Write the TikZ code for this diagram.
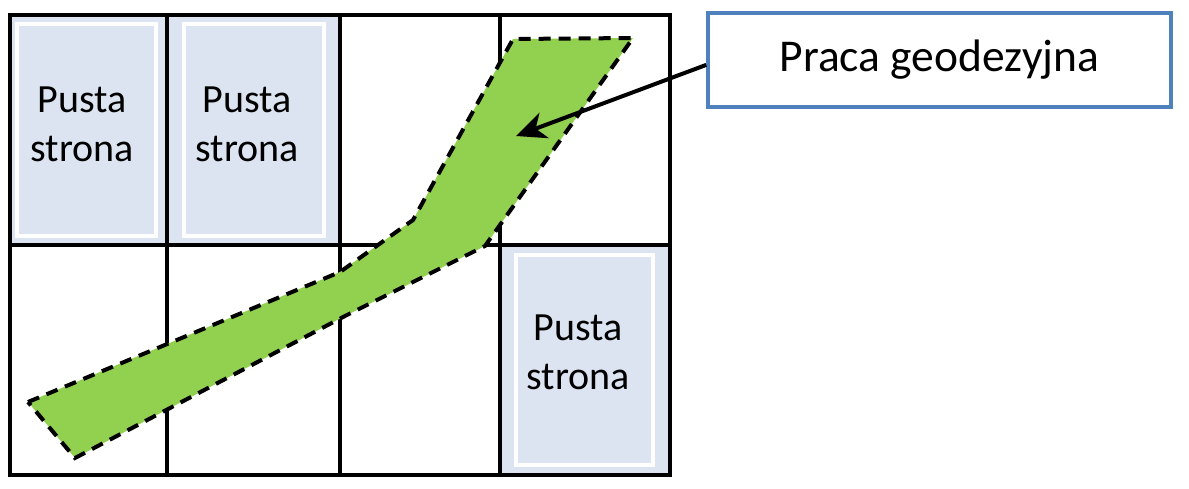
\documentclass[tikz,border=0pt]{standalone}
\usepackage{fontspec}
\setmainfont{Carlito}
\usetikzlibrary{arrows.meta,calc}
\definecolor{pageblue}{RGB}{219,228,240}
\definecolor{geogreen}{RGB}{146,208,80}
\definecolor{boxblue}{RGB}{79,129,189}
\tikzset{
  gridline/.style={line width=4pt,black},
  emptypage/.style={fill=pageblue},
  innerframe/.style={draw=white,line width=4pt},
  pagetext/.style={align=center,font=\fontsize{40}{49}\selectfont,inner sep=0pt},
  area/.style={fill=geogreen,draw=black,line width=4pt,dash pattern=on 12pt off 8pt},
  labelbox/.style={draw=boxblue,line width=3.5pt,minimum width=463pt,minimum height=94pt,inner sep=0pt,font=\fontsize{45.5}{54}\selectfont},
  pointer/.style={line width=4pt,-{Stealth[length=30pt,width=27pt,inset=9pt]}}
}
\begin{document}
\begin{tikzpicture}[x=1pt,y=-1pt]
\useasboundingbox (0,0) rectangle (1189,488);
% empty pages
\fill[emptypage] (10,15) rectangle (167,245);
\fill[emptypage] (167,15) rectangle (340,245);
\fill[emptypage] (500,245) rectangle (670,475);
\draw[innerframe] (17,24) rectangle (156,236);
\draw[innerframe] (184,24) rectangle (324,236);
\draw[innerframe] (516,255) rectangle (653,465);
% grid
\draw[gridline] (10,15) rectangle (670,475);
\draw[gridline] (167,15) -- (167,475);
\draw[gridline] (340,15) -- (340,475);
\draw[gridline] (500,15) -- (500,475);
\draw[gridline] (10,245) -- (670,245);
% texts
\node[pagetext] (p1) at (82,124) {Pusta\\strona};
\node[pagetext] (p2) at (247,124) {Pusta\\strona};
\node[pagetext] (p3) at (578,352) {Pusta\\strona};
% survey area
\draw[area] (28,402) -- (340,272) -- (413,220) -- (513,39) -- (633,38) -- (485,246) -- (345,316) -- (75,458) -- cycle;
% label
\node[labelbox] (box) at (939.5,60) {Praca geodezyjna};
\coordinate (tip) at (516,136);
\draw[pointer] ($(box.north west)!0.55!(box.south west)$) -- (tip);
\end{tikzpicture}
\end{document}
